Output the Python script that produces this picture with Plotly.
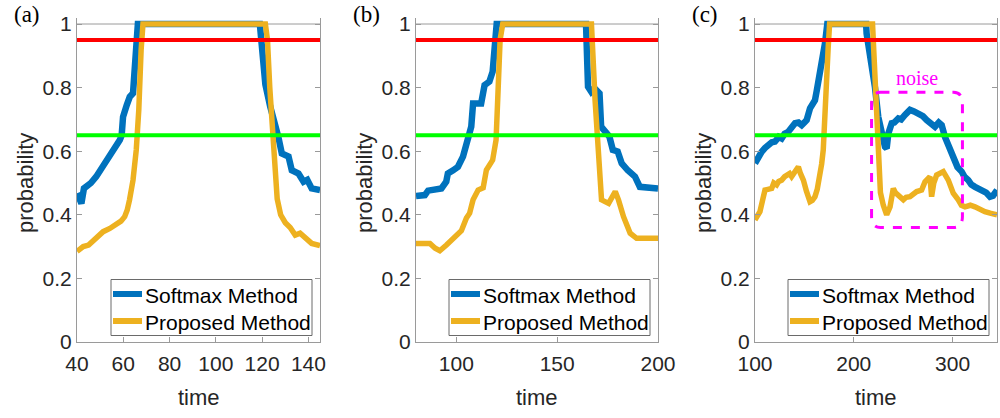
import plotly.graph_objects as go

# ---------------- data ----------------
# panel (a)
t_a_soft = [40, 41.9, 43, 44, 46, 48.3, 50.5, 52.6, 54.5, 57, 58.5, 59.3, 59.9, 61.5, 62.8, 64.2, 64.9,
            65.6, 66.3, 119, 120, 121.4, 123.5, 125.7, 127, 128.5, 130, 131.4, 132.8, 134.5, 135.7,
            137.9, 139.5, 141.4, 143, 145]
p_a_soft = [0.468, 0.436, 0.483, 0.488, 0.50, 0.52, 0.545, 0.572, 0.588, 0.614, 0.635, 0.65, 0.708,
            0.745, 0.771, 0.782, 0.866, 0.95, 1.0, 1.0, 0.918, 0.81, 0.74, 0.688, 0.645, 0.593, 0.59,
            0.583, 0.54, 0.535, 0.53, 0.504, 0.51, 0.483, 0.48, 0.478]
t_a_prop = [40, 42.7, 45, 47, 49, 51.3, 54.2, 57, 59, 60.6, 61.7, 62.7, 64.2, 65.6, 66.7, 67.7, 68.5,
            121.4, 122.3, 123.3, 124.4, 125.4, 126.5, 128, 130, 132.1, 134.3, 136.4, 138.6, 141.4, 145]
p_a_prop = [0.285, 0.30, 0.305, 0.32, 0.335, 0.347, 0.357, 0.37, 0.38, 0.394, 0.415, 0.447, 0.509,
            0.604, 0.73, 0.918, 1.0, 1.0, 0.95, 0.80, 0.66, 0.54, 0.45, 0.40, 0.375, 0.36, 0.336,
            0.342, 0.326, 0.31, 0.303]

# panel (b)
t_b_soft = [80, 84.4, 86, 92.6, 95, 95.8, 98.4, 100.8, 103.3, 105.7, 107.4, 108.3, 112.3, 114, 116.4,
            118, 119.4, 120, 164.3, 165.3, 166.9, 168.5, 171, 171.8, 175.9, 177.6, 180, 182, 185,
            188.6, 191, 196.9, 200]
p_b_soft = [0.459, 0.462, 0.476, 0.483, 0.504, 0.53, 0.54, 0.551, 0.583, 0.635, 0.677, 0.75, 0.75,
            0.808, 0.819, 0.85, 0.94, 1.0, 1.0, 0.803, 0.787, 0.798, 0.782, 0.677, 0.646, 0.604,
            0.599, 0.562, 0.54, 0.52, 0.488, 0.488, 0.483]
t_b_prop = [80, 86.9, 89.5, 91.8, 95.1, 98.4, 102.5, 105, 106.6, 108.3, 110.8, 113.3, 114.9, 118,
            119.7, 120.5, 121.7, 123, 167, 168.8, 170.5, 172, 175.5, 178.8, 180.4, 182.9, 186.2,
            189.4, 200]
p_b_prop = [0.31, 0.31, 0.295, 0.287, 0.305, 0.326, 0.35, 0.39, 0.405, 0.447, 0.478, 0.485, 0.541,
            0.572, 0.635, 0.76, 0.95, 1.0, 1.0, 0.76, 0.551, 0.447, 0.436, 0.473, 0.447, 0.394,
            0.342, 0.326, 0.326]

# panel (c)
t_c_soft = [100, 103, 106.7, 110, 113.5, 117, 120.2, 124, 127, 130, 133.7, 137, 140.5, 144, 147.3,
            150, 152.3, 155.7, 158, 160.7, 162.5, 165, 167.5, 170.9, 173.2, 212.5, 213, 214.5, 216,
            218, 221.5, 224.8, 228.2, 231.6, 233.3, 235, 238.4, 241, 245.1, 248, 251.8, 256.9, 261,
            265.3, 270, 273.8, 278, 282.2, 286, 289, 292.3, 297.4, 302.4, 305, 309.2, 312, 315.9,
            319, 322.7, 327, 331.1, 334, 337.9, 341, 345]
p_c_soft = [0.562, 0.58, 0.598, 0.61, 0.62, 0.628, 0.63, 0.645, 0.64, 0.655, 0.661, 0.675, 0.688,
            0.69, 0.682, 0.69, 0.698, 0.735, 0.745, 0.76, 0.79, 0.83, 0.866, 0.94, 1.0, 1.0, 0.97,
            0.94, 0.93, 0.887, 0.80, 0.708, 0.656, 0.614, 0.609, 0.656, 0.688, 0.69, 0.703, 0.70,
            0.714, 0.73, 0.725, 0.719, 0.71, 0.698, 0.688, 0.677, 0.69, 0.682, 0.645, 0.604, 0.562,
            0.55, 0.536, 0.52, 0.509, 0.495, 0.488, 0.48, 0.478, 0.47, 0.457, 0.46, 0.478]
t_c_prop = [100, 105, 108, 110.1, 113, 116.9, 119, 121.9, 124, 127, 130, 132.1, 135, 137.1, 140,
            143.9, 146, 149, 152, 155.7, 158, 160.7, 163, 165.8, 167.5, 169.1, 171, 172.5, 174,
            175.5, 219, 220.5, 222, 223.5, 225, 227, 229.9, 233.3, 236.7, 240, 242, 245.1, 250.2,
            253, 256.9, 263.7, 268.7, 272.1, 277.1, 278.8, 281, 283.9, 287, 290.6, 295.7, 300.7,
            305.8, 309, 312.6, 318, 322.7, 328, 332.8, 338, 345]
p_c_prop = [0.384, 0.41, 0.45, 0.478, 0.48, 0.483, 0.50, 0.494, 0.505, 0.509, 0.52, 0.525, 0.53,
            0.52, 0.535, 0.551, 0.53, 0.509, 0.475, 0.441, 0.445, 0.457, 0.48, 0.52, 0.56, 0.604,
            0.70, 0.80, 0.92, 1.0, 1.0, 0.90, 0.78, 0.66, 0.55, 0.47, 0.43, 0.40, 0.425, 0.483,
            0.47, 0.462, 0.447, 0.455, 0.457, 0.473, 0.478, 0.504, 0.52, 0.457, 0.50, 0.525, 0.53,
            0.536, 0.509, 0.468, 0.447, 0.43, 0.425, 0.43, 0.425, 0.415, 0.41, 0.405, 0.40]

HIGH_THRESHOLD = 0.95
LOW_THRESHOLD = 0.65

x_ranges = [[40, 145], [80, 200], [100, 345]]
x_ticks = [[40, 60, 80, 100, 120, 140], [100, 150, 200], [100, 200, 300]]
y_ticks = [0, 0.2, 0.4, 0.6, 0.8, 1]
y_tick_text = ["0", "0.2", "0.4", "0.6", "0.8", "1"]
panel_labels = ["(a)", "(b)", "(c)"]
series_names = ["Softmax Method", "Proposed Method"]

# noise region in panel (c): t from, t to, p from, p to
noise_box = (218, 310, 0.36, 0.785)
noise_label = "noise"

# ---------------- styling ----------------
W, H = 1000, 418
BLUE = "#0072BD"
ORANGE = "#EDB120"
SERIES_COLORS = [BLUE, ORANGE]
SERIES_WIDTHS = [6.5, 5.5]
AX_GRAY = "#9a9a9a"
TXT = "#262626"
SANS = "Liberation Sans, Arial, sans-serif"
SERIF = "Liberation Serif, Times New Roman, serif"

panel_px = [(77, 320), (416, 658), (755, 997)]   # left/right of each axes box
y_bottom_px, y_top_px = 342, 24                    # pixel rows of p=0 and p=1
Y_MAX = 1.02
unit_px = (y_bottom_px - y_top_px)
top_px = y_bottom_px - Y_MAX * unit_px

# legend box geometry (pixels): offsets from the axes' right edge, and row centres
LEG_LEFT_OFF, LEG_RIGHT_OFF = 209, 8
LEG_TOP, LEG_BOTTOM = 279.5, 335.5
LEG_ROWS = [294, 321]


def px(x):
    return x / W


def py(y):
    return 1 - y / H


fig = go.Figure()

data = [
    ((t_a_soft, p_a_soft), (t_a_prop, p_a_prop)),
    ((t_b_soft, p_b_soft), (t_b_prop, p_b_prop)),
    ((t_c_soft, p_c_soft), (t_c_prop, p_c_prop)),
]

for i, series in enumerate(data):
    sfx = "" if i == 0 else str(i + 1)
    for k, (t, p) in enumerate(series):
        fig.add_trace(go.Scatter(x=t, y=p, mode="lines", name=series_names[k],
                                 line=dict(color=SERIES_COLORS[k], width=SERIES_WIDTHS[k]),
                                 xaxis="x" + sfx, yaxis="y" + sfx, showlegend=False))

layout = dict(
    width=W, height=H,
    margin=dict(l=0, r=0, t=0, b=0, autoexpand=False),
    paper_bgcolor="white", plot_bgcolor="white",
    font=dict(family=SANS, color=TXT),
    showlegend=False,
    shapes=[], annotations=[],
)

for i in range(3):
    sfx = "" if i == 0 else str(i + 1)
    x0, x1 = panel_px[i]
    layout["xaxis" + sfx] = dict(
        domain=[x0 / W, x1 / W], range=x_ranges[i], anchor="y" + sfx, automargin=False,
        tickvals=x_ticks[i], ticks="inside", ticklen=5, tickcolor=AX_GRAY,
        showline=True, linecolor=AX_GRAY, linewidth=1, showgrid=False, zeroline=False,
        tickfont=dict(size=21, family=SANS, color=TXT), ticklabelstandoff=3,
    )
    layout["yaxis" + sfx] = dict(
        domain=[1 - y_bottom_px / H, 1 - top_px / H], range=[0, Y_MAX], anchor="x" + sfx,
        automargin=False,
        tickvals=y_ticks, ticktext=y_tick_text, ticks="inside", ticklen=5, tickcolor=AX_GRAY,
        showline=True, linecolor=AX_GRAY, linewidth=1, mirror="ticks",
        showgrid=False, zeroline=False,
        tickfont=dict(size=21, family=SANS, color=TXT), ticklabelstandoff=0,
    )
    # top edge of the axes box
    layout["shapes"].append(dict(type="line", xref="x" + sfx + " domain", yref="y" + sfx,
                                 x0=0, x1=1, y0=1, y1=1, layer="below",
                                 line=dict(color=AX_GRAY, width=1)))
    # threshold lines
    layout["shapes"].append(dict(type="line", xref="x" + sfx + " domain", yref="y" + sfx,
                                 x0=0, x1=1, y0=HIGH_THRESHOLD, y1=HIGH_THRESHOLD,
                                 line=dict(color="#FF0000", width=4)))
    layout["shapes"].append(dict(type="line", xref="x" + sfx + " domain", yref="y" + sfx,
                                 x0=0, x1=1, y0=LOW_THRESHOLD, y1=LOW_THRESHOLD,
                                 line=dict(color="#00FF00", width=4)))

    # legend box in the lower-right corner of each axes
    bl, br = x1 - LEG_LEFT_OFF, x1 - LEG_RIGHT_OFF
    layout["shapes"].append(dict(type="rect", xref="paper", yref="paper",
                                 x0=px(bl), x1=px(br), y0=py(LEG_BOTTOM), y1=py(LEG_TOP),
                                 fillcolor="white", line=dict(color="#6a6a6a", width=1)))
    for k in range(2):
        yr = LEG_ROWS[k]
        layout["shapes"].append(dict(type="line", xref="paper", yref="paper",
                                     x0=px(bl + 2), x1=px(bl + 31), y0=py(yr), y1=py(yr),
                                     line=dict(color=SERIES_COLORS[k], width=6)))
        layout["annotations"].append(dict(
            text=series_names[k], xref="paper", yref="paper",
            x=px(bl + 32), y=py(yr + 1), xanchor="left", yanchor="middle",
            showarrow=False, font=dict(size=21, family=SANS, color="black")))

    # panel label
    layout["annotations"].append(dict(
        text=panel_labels[i], xref="paper", yref="paper",
        x=(x0 - 50) / W, y=1.0, showarrow=False,
        font=dict(size=23, family=SERIF, color="black"),
        xanchor="center", yanchor="top"))
    # axis titles
    layout["annotations"].append(dict(
        text="probability", xref="paper", yref="paper", textangle=-90,
        x=(x0 - 52) / W, y=1 - 183 / H, showarrow=False,
        font=dict(size=22, family=SANS, color=TXT), xanchor="center", yanchor="middle"))
    layout["annotations"].append(dict(
        text="time", xref="paper", yref="paper",
        x=(x0 + x1) / 2 / W, y=1 - 397 / H, showarrow=False,
        font=dict(size=22, family=SANS, color=TXT), xanchor="center", yanchor="middle"))

# noise region in panel (c): dashed rounded rectangle
nx0, nx1, ny0, ny1 = noise_box
rx, ry = 9, 0.035
path = (f"M {nx0 + rx},{ny1} L {nx1 - rx},{ny1} Q {nx1},{ny1} {nx1},{ny1 - ry} "
        f"L {nx1},{ny0 + ry} Q {nx1},{ny0} {nx1 - rx},{ny0} "
        f"L {nx0 + rx},{ny0} Q {nx0},{ny0} {nx0},{ny0 + ry} "
        f"L {nx0},{ny1 - ry} Q {nx0},{ny1} {nx0 + rx},{ny1} Z")
layout["shapes"].append(dict(type="path", xref="x3", yref="y3", path=path,
                             line=dict(color="#FF00FF", width=3, dash="dash")))
layout["annotations"].append(dict(
    text=noise_label, xref="x3", yref="y3", x=(nx0 + nx1) / 2 + 0.5, y=0.83,
    showarrow=False, font=dict(size=20, family=SERIF, color="#FF00FF"),
    xanchor="center", yanchor="middle"))

fig.update_layout(**layout)
fig.write_html("out.html")
